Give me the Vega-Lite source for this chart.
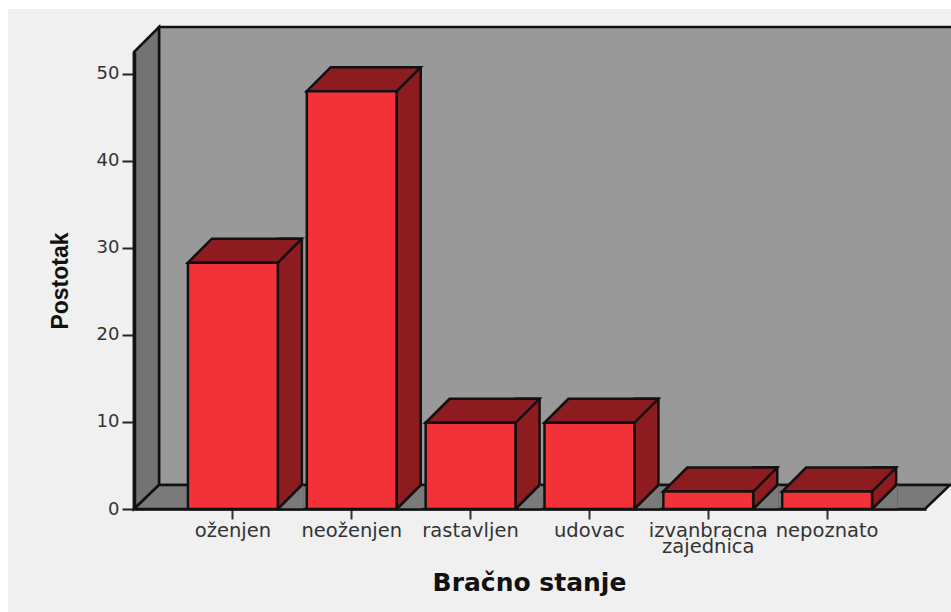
{
"$schema":"https://vega.github.io/schema/vega-lite/v6.json",
"autosize":"none","width":792,"height":457,
"padding":{"left":134,"top":52,"right":25,"bottom":103},
"background":"#ffffff",
"config":{"view":{"stroke":null}},
"data":{"values":[
{"stanje":"oženjen","postotak":28.3},
{"stanje":"neoženjen","postotak":48},
{"stanje":"rastavljen","postotak":9.9},
{"stanje":"udovac","postotak":9.9},
{"stanje":"izvanbracna zajednica","postotak":2},
{"stanje":"nepoznato","postotak":2}
]},
"encoding":{},
"layer":[
{"data":{"values":[{"dio":"pozadina"}]},"mark":{"type":"point","shape":"M-522,-271.5L421,-271.5L421,331.5L-522,331.5Z","size":4,"filled":true,"fill":"#f0f0f0","stroke":null,"opacity":1},"encoding":{}},
{"data":{"values":[{"dio":"zid"}]},"mark":{"type":"point","shape":"M-371,-253.5L425,-253.5L425,204.5L-371,204.5Z","size":4,"filled":true,"fill":"#999999","stroke":"#111111","strokeWidth":2.5,"opacity":1},"encoding":{}},
{"data":{"values":[{"dio":"lijevi"}]},"mark":{"type":"point","shape":"M-396,-228.5L-371,-253.5L-371,204.5L-396,228.5Z","size":4,"filled":true,"fill":"#737373","stroke":"#111111","strokeWidth":2.5,"opacity":1},"encoding":{}},
{"data":{"values":[{"dio":"pod"}]},"mark":{"type":"point","shape":"M-396,228.5L395,228.5L420,204.5L-371,204.5Z","size":4,"filled":true,"fill":"#7a7a7a","stroke":"#111111","strokeWidth":2.5,"opacity":1},"encoding":{}},
{"mark":{"type":"bar","width":24,"xOffset":57,"yOffset":-24,"fill":"#8c1c20","stroke":"#111111","strokeWidth":2.5},
 "encoding":{
  "x":{"field":"stanje","type":"nominal","sort":null,
   "scale":{"domain":["oženjen","neoženjen","rastavljen","udovac","izvanbracna zajednica","nepoznato"],"paddingInner":0.244,"paddingOuter":0.454},
   "axis":{"title":"Bračno stanje","titleFont":"DejaVu Sans","titleFontWeight":"bold","titleFontSize":25,"titleColor":"#111111","titleX":395,"titleY":81,"titleBaseline":"alphabetic",
    "labelAngle":0,"labelFont":"DejaVu Sans","labelFontSize":19.5,"labelColor":"#333333","labelPadding":2,"labelOverlap":false,"labelBound":false,"labelLimit":0,"labelLineHeight":16,
    "labelExpr":"datum.label == 'izvanbracna zajednica' ? ['izvanbracna','zajednica'] : datum.label",
    "tickSize":10,"tickWidth":2,"tickColor":"#333333","domain":true,"domainColor":"#111111","domainWidth":2.5,"zindex":1}},
  "y":{"field":"postotak","type":"quantitative","stack":null,
   "scale":{"domain":[0,52.5],"nice":false},
   "axis":{"title":"Postotak","titleFont":"Liberation Sans","titleFontWeight":"bold","titleFontSize":23,"titleColor":"#111111","titleX":-67,"titleAngle":-90,"titleBaseline":"alphabetic",
    "values":[0,10,20,30,40,50],"labelFont":"DejaVu Sans","labelFontSize":18,"labelColor":"#333333","labelPadding":3,
    "tickSize":12,"tickWidth":2,"tickColor":"#222222","domain":true,"domainColor":"#111111","domainWidth":3.5,"grid":false,"zindex":1}}
 }},
{"mark":{"type":"point","shape":"M45,1.5L70.5,1.5L70.5,-24L45,1.5Z","size":4,"filled":true,"fill":"#7a7a7a","stroke":null,"opacity":1},
 "encoding":{"x":{"field":"stanje","type":"nominal"},"y":{"datum":0}}},
{"mark":{"type":"point","shape":"M45,0L69,-24","size":4,"filled":false,"fill":null,"stroke":"#111111","strokeWidth":2.5,"opacity":1},
 "encoding":{"x":{"field":"stanje","type":"nominal"},"y":{"datum":0}}},
{"mark":{"type":"point","shape":"M-45,0L45,0L69,-24L-21,-24Z","size":4,"filled":true,"fill":"#8c1c20","stroke":"#111111","strokeWidth":2.5,"opacity":1},
 "encoding":{"x":{"field":"stanje","type":"nominal"},"y":{"field":"postotak","type":"quantitative"}}},
{"mark":{"type":"bar","fill":"#f33138","stroke":"#111111","strokeWidth":2.5},
 "encoding":{"x":{"field":"stanje","type":"nominal"},"y":{"field":"postotak","type":"quantitative","stack":null}}}
]
}
